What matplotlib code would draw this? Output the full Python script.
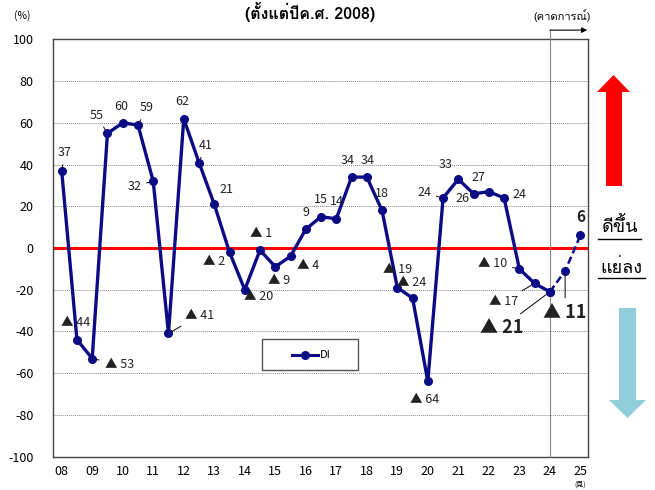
import matplotlib
matplotlib.use("Agg")
import matplotlib.pyplot as plt
from matplotlib import font_manager, ft2font
from matplotlib.patches import Polygon, Rectangle
from matplotlib.lines import Line2D

# half-year DI values, 2008 H1 .. 2025 (forecast)
di = [37, -44, -53, 55, 60, 59, 32, -41, 62, 41, 21, -2, -20, -1, -9, -4,
      9, 15, 14, 34, 34, 18, -19, -24, -64, 24, 33, 26, 27, 24, -10, -17,
      -21, -11, 6]
years = ["08", "09", "10", "11", "12", "13", "14", "15", "16", "17", "18",
         "19", "20", "21", "22", "23", "24", "25"]
yticks = [-100, -80, -60, -40, -20, 0, 20, 40, 60, 80, 100]
forecast_start = 32

# label offsets in pixels (dx, dy with y down) and leader flags
offs = [(3, -18), (-1, -17), (27, 6), (-11, -18), (-1, -16), (9, -17),
        (-19, 5), (31, -18), (-1, -17), (7, -17), (12, -15), (-15, 9),
        (14, 7), (1, -17), (4, 14), (18, 9), (0, -17), (0, -17), (1, -17),
        (-4, -17), (1, -17), (0, -17), (0, -18), (-1, -16), (-3, 18),
        (-19, -5), (-13, -15), (-11, 5), (-10, -14), (15, -3), (-27, -5),
        (-31, 18), (-48, 36), (0, 42), (0, -18)]
leaders = {0, 2, 3, 5, 6, 7, 9, 25, 30, 31, 32, 33}
big = {32, 33}


def font_with(ch, fallback="DejaVu Sans"):
    for f in font_manager.fontManager.ttflist:
        try:
            if ord(ch) in ft2font.FT2Font(f.fname).get_charmap():
                return f.name
        except Exception:
            pass
    return fallback


thai = font_with("ด")
num_fam = ["Noto Sans CJK JP", "DejaVu Sans"]
thai_fam = [thai, "DejaVu Sans"]

navy = "#0b0b86"
fig = plt.figure(figsize=(6.55, 4.9), dpi=100)
ax = fig.add_axes([53 / 655, 1 - 456.5 / 490, 535 / 655, 417 / 490])

x = list(range(len(di)))
ax.plot(x[:forecast_start + 1], di[:forecast_start + 1], color=navy, lw=2.4,
        marker="o", ms=5.5, zorder=5)
ax.plot(x[forecast_start:], di[forecast_start:], color=navy, lw=1.8, ls=(0, (3, 1.5)),
        marker="o", ms=5.5, zorder=5)

ax.set_xlim(-0.57, 34.5)
ax.set_ylim(-100, 100)
ax.set_xticks(range(0, len(di), 2))
ax.set_xticklabels(years, family=num_fam, fontsize=9)
ax.set_yticks(yticks)
ax.set_yticklabels([str(v) for v in yticks], family=num_fam, fontsize=9)
ax.tick_params(length=0)
ax.tick_params(axis="y", pad=14)
ax.tick_params(axis="x", pad=6)
for v in yticks[1:-1]:
    ax.axhline(v, color="#888888", lw=0.7, ls=(0, (1, 1)), zorder=1)
ax.axhline(0, color="#ff0000", lw=2.2, zorder=2)
for s in ax.spines.values():
    s.set_color("#444444")
    s.set_linewidth(1)

# forecast marker line and arrow
ax.plot([forecast_start, forecast_start], [-100, 104.5], color="#888888", lw=0.8,
        clip_on=False, zorder=3)
ax.annotate("", xy=(34.45, 104.5), xytext=(forecast_start, 104.5),
            arrowprops=dict(arrowstyle="-|>", color="black", lw=0.8,
                            shrinkA=0, shrinkB=0, mutation_scale=8),
            annotation_clip=False)

# data labels
for i, v in enumerate(di):
    txt = str(v) if v >= 0 else "▲ " + str(-v)
    dx, dy = offs[i]
    fs, fw = 9, "normal"
    if i in big:
        fs, fw = 13, "bold"
    if i == len(di) - 1:
        fs, fw = 11, "bold"
    ap = None
    if i in leaders:
        ap = dict(arrowstyle="-", color="black", lw=0.7, shrinkA=2, shrinkB=3)
    ax.annotate(txt, xy=(i, v), xytext=(dx, -dy), textcoords="offset pixels",
                ha="center", va="center", fontsize=fs, fontweight=fw,
                family=num_fam, color="#222222", arrowprops=ap, zorder=6)

# legend box
ly = (456.5 - 355) / 417
ax.add_patch(Rectangle(((262 - 53) / 535, (456.5 - 370) / 417), 96 / 535, 31 / 417,
                       transform=ax.transAxes, fill=True, facecolor="white",
                       edgecolor="#555555", lw=1, zorder=4))
ax.add_line(Line2D([(292 - 53) / 535, (318 - 53) / 535], [ly, ly],
                   transform=ax.transAxes, color=navy, lw=2.2, zorder=6))
ax.add_line(Line2D([(305 - 53) / 535], [ly], transform=ax.transAxes,
                   color=navy, marker="o", ms=5.5, zorder=6))
ax.text((320 - 53) / 535, ly, "DI", transform=ax.transAxes,
        va="center", ha="left", fontsize=8, family=num_fam, zorder=6)

# overlay in pixel coordinates for the decorations outside the axes
ov = fig.add_axes([0, 0, 1, 1], facecolor="none")
ov.set_xlim(0, 655)
ov.set_ylim(490, 0)
ov.axis("off")

ov.text(310, 2, "(ตั้งแต่ปีค.ศ. 2008)", ha="center", va="top", fontsize=11.5,
        fontweight="bold", family=thai_fam)
ov.text(22, 16, "(%)", ha="center", va="center", fontsize=7.5, family=num_fam)
ov.text(562, 15, "(คาดการณ์)", ha="center", va="center", fontsize=8, family=thai_fam)
ov.text(580, 485, "(見)", ha="center", va="center", fontsize=5, family=num_fam)

ov.add_patch(Polygon([(606, 186), (606, 92), (597, 92), (613.5, 75), (630, 92),
                      (622, 92), (622, 186)], closed=True, color="#ff0000", lw=0))
ov.add_patch(Polygon([(619, 308), (619, 400), (609, 400), (627.5, 418), (646, 400),
                      (636, 400), (636, 308)], closed=True, color="#92cddc", lw=0))

ov.text(620, 226, "ดีขึ้น", ha="center", va="center", fontsize=13, family=thai_fam)
ov.plot([598, 641], [239, 239], color="black", lw=1)
ov.text(621, 268, "แย่ลง", ha="center", va="center", fontsize=13, family=thai_fam)
ov.plot([598, 645], [278, 278], color="black", lw=1)

fig.savefig("out.png", dpi=100)
